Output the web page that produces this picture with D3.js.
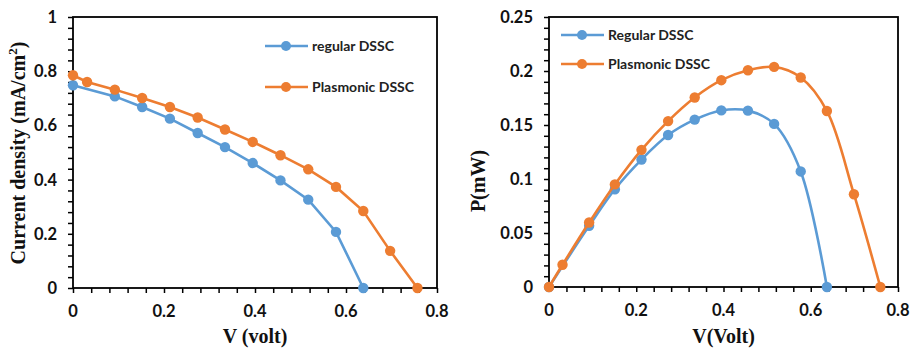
<!DOCTYPE html>
<html><head><meta charset="utf-8">
<script src="https://cdn.jsdelivr.net/npm/d3@7/dist/d3.min.js"></script>
<style>body{margin:0;background:#fff}svg{display:block}</style>
</head><body>
<svg id="c" width="918" height="353"></svg>
<script>
// ---- data ----
const seriesNames = ["regular DSSC", "Plasmonic DSSC"];
const seriesNamesP = ["Regular DSSC", "Plasmonic DSSC"];
const vReg = [0, 0.092, 0.152, 0.213, 0.274, 0.334, 0.395, 0.456, 0.517, 0.578, 0.638];
const jReg = [0.748, 0.707, 0.668, 0.625, 0.572, 0.520, 0.461, 0.397, 0.326, 0.207, 0];
const vPla = [0, 0.031, 0.092, 0.152, 0.213, 0.274, 0.334, 0.395, 0.456, 0.517, 0.578, 0.638, 0.697, 0.757];
const jPla = [0.785, 0.760, 0.732, 0.701, 0.668, 0.629, 0.585, 0.539, 0.490, 0.438, 0.373, 0.284, 0.137, 0];
const pvReg = [0, 0.092, 0.151, 0.212, 0.273, 0.334, 0.395, 0.456, 0.516, 0.577, 0.637];
const pReg = [0, 0.0566, 0.0905, 0.118, 0.1407, 0.155, 0.1635, 0.1633, 0.151, 0.107, 0];
const pvPla = [0, 0.031, 0.092, 0.151, 0.212, 0.273, 0.334, 0.395, 0.456, 0.516, 0.577, 0.637, 0.699, 0.7595];
const pPla = [0, 0.0206, 0.0597, 0.095, 0.127, 0.1536, 0.1755, 0.1915, 0.2007, 0.2038, 0.194, 0.163, 0.0859, 0];
const xTicks = [0, 0.2, 0.4, 0.6, 0.8];
const yTicksJ = [0, 0.2, 0.4, 0.6, 0.8, 1];
const yTicksP = [0, 0.05, 0.1, 0.15, 0.2, 0.25];
const colors = ["#5B9BD5", "#ED7D31"];

const svg = d3.select("#c");

function panel(o) {
  const g = svg.append("g");
  const x = d3.scaleLinear().domain([0, 0.8]).range([o.left, o.right]);
  const y = d3.scaleLinear().domain([0, o.ymax]).range([o.bottom, o.top]);
  const tickFont = "bold 16.5px Lato, 'Open Sans', sans-serif";
  const xa = g.append("g").attr("transform", `translate(0,${o.bottom})`)
    .call(d3.axisBottom(x).tickValues(d3.range(0, 0.8001, 0.04)).tickSize(5).tickFormat(""));
  const ya = g.append("g").attr("transform", `translate(${o.left},0)`)
    .call(d3.axisLeft(y).tickValues(d3.range(0, o.ymax + 1e-9, o.ymin)).tickSize(5).tickFormat(""));
  [xa, ya].forEach(a => { a.select(".domain").remove(); a.selectAll("line").attr("stroke", "#000").attr("stroke-width", 1.5); });
  g.selectAll(".xl").data(xTicks).enter().append("text")
    .attr("x", d => x(d)).attr("y", o.bottom + 29).attr("text-anchor", "middle")
    .style("font", tickFont).attr("fill", "#111").text(d => d3.format("")(d));
  g.selectAll(".yl").data(o.yTicks).enter().append("text")
    .attr("x", o.left - 16).attr("y", d => y(d) + 6).attr("text-anchor", "end")
    .style("font", tickFont).attr("fill", "#111").text(d => d3.format("")(d));
  g.append("rect").attr("x", o.left).attr("y", o.top).attr("width", o.right - o.left).attr("height", o.bottom - o.top)
    .attr("fill", "none").attr("stroke", "#000").attr("stroke-width", 1.8);
  o.series.forEach((s, i) => {
    const pts = s.xs.map((v, k) => [x(v), y(s.ys[k])]);
    g.append("path").attr("d", d3.line().curve(o.curve)(pts))
      .attr("fill", "none").attr("stroke", colors[i]).attr("stroke-width", 2.6);
    g.selectAll(null).data(pts).enter().append("circle")
      .attr("cx", d => d[0]).attr("cy", d => d[1]).attr("r", 5.2).attr("fill", colors[i]);
  });
  o.names.forEach((n, i) => {
    const ly = o.legY + i * o.legDy;
    g.append("line").attr("x1", o.legX).attr("x2", o.legX + 43).attr("y1", ly).attr("y2", ly)
      .attr("stroke", colors[i]).attr("stroke-width", 2.6);
    g.append("circle").attr("cx", o.legX + 21).attr("cy", ly).attr("r", 5).attr("fill", colors[i]);
    g.append("text").attr("x", o.legX + 47).attr("y", ly + 5)
      .style("font", "bold 14px Lato, 'Open Sans', sans-serif").attr("fill", "#222").text(n);
  });
  g.append("text").attr("x", (o.left + o.right) / 2).attr("y", 343).attr("text-anchor", "middle")
    .style("font", "bold 20px 'Liberation Serif', 'Times New Roman', serif").attr("fill", "#111").text(o.xTitle);
  const yt = g.append("text").attr("transform", `translate(${o.yTitleX},${o.yTitleY}) rotate(-90)`)
    .attr("text-anchor", "middle")
    .style("font", "bold 20px 'Liberation Serif', 'Times New Roman', serif").attr("fill", "#111");
  o.yTitle(yt);
}

panel({
  left: 73, right: 437, top: 17, bottom: 288, ymax: 1, ymin: 0.04, yTicks: yTicksJ,
  series: [{xs: vReg, ys: jReg}, {xs: vPla, ys: jPla}], curve: d3.curveLinear,
  names: seriesNames, legX: 265, legY: 46, legDy: 41,
  xTitle: "V (volt)", yTitleX: 25, yTitleY: 153,
  yTitle: t => { t.append("tspan").text("Current  density (mA/cm"); t.append("tspan").attr("dy", -8).style("font-size", "13px").text("2"); t.append("tspan").attr("dy", 8).text(")"); }
});
panel({
  left: 549, right: 898, top: 17, bottom: 287, ymax: 0.25, ymin: 0.01, yTicks: yTicksP,
  series: [{xs: pvReg, ys: pReg}, {xs: pvPla, ys: pPla}], curve: d3.curveCatmullRom.alpha(0.5),
  names: seriesNamesP, legX: 561, legY: 35, legDy: 29,
  xTitle: "V(Volt)", yTitleX: 485, yTitleY: 181,
  yTitle: t => t.text("P(mW)")
});
</script>
</body></html>
